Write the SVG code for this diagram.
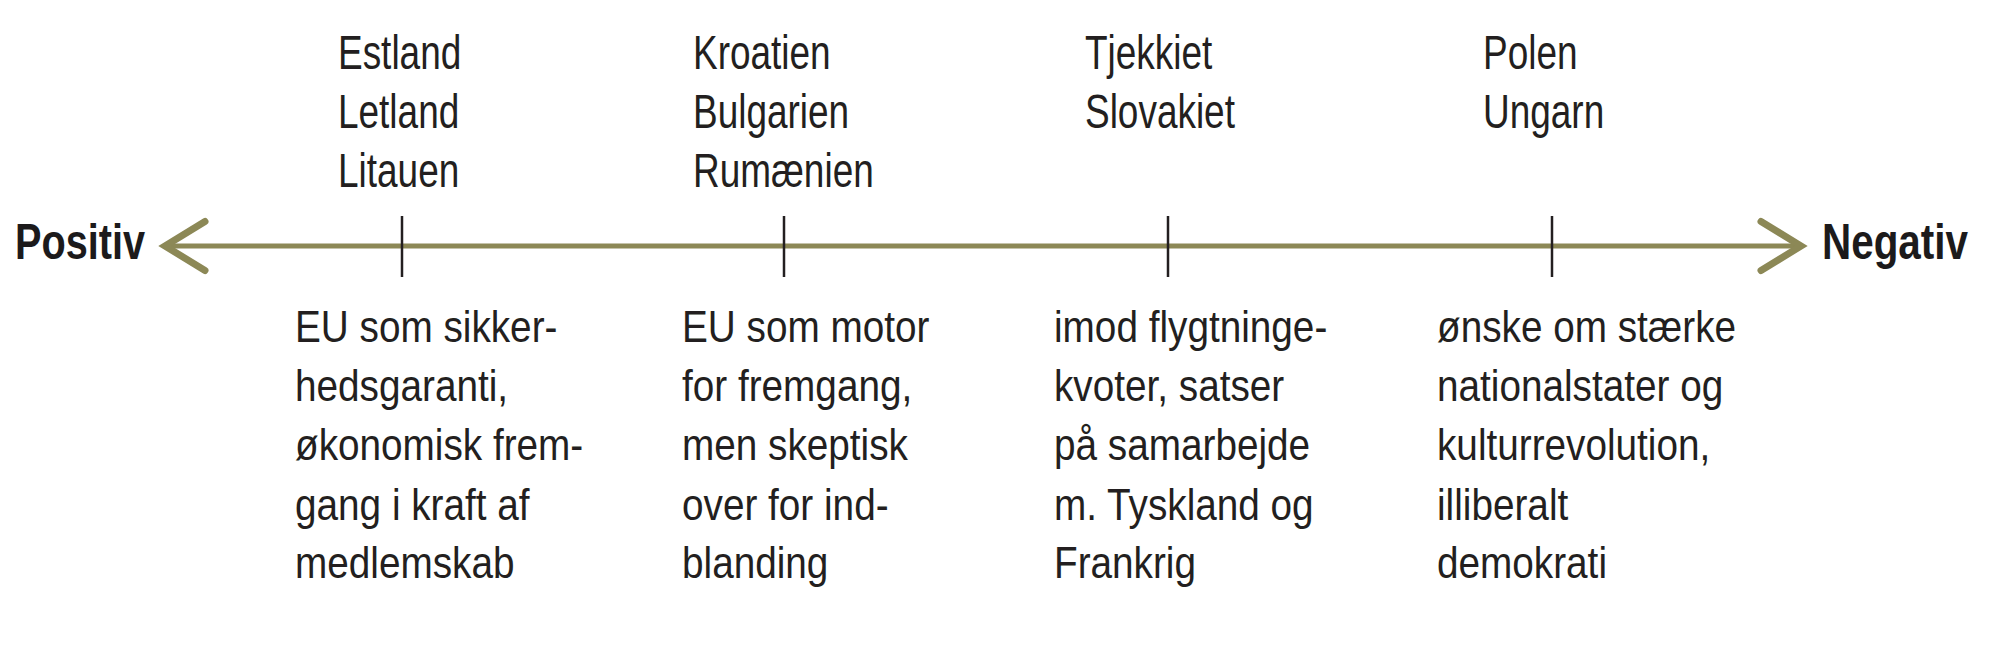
<svg xmlns="http://www.w3.org/2000/svg" width="2000" height="652" viewBox="0 0 2000 652">
<style>
  .top { font-family: "Liberation Sans", Arial, sans-serif; font-size: 48px; fill: #231f20; }
  .bot { font-family: "Liberation Sans", Arial, sans-serif; font-size: 44px; fill: #231f20; }
  .end { font-family: "Liberation Sans", Arial, sans-serif; font-size: 50px; font-weight: bold; fill: #1c1a1b; }
  .tick { stroke: #231f20; stroke-width: 2.5; }
  .axis { stroke: #8c8856; stroke-width: 5; fill: none; }
  .chev { stroke: #8c8856; stroke-width: 7; fill: none; stroke-linecap: round; stroke-linejoin: miter; }
</style>
<defs>
  <marker id="chev" markerUnits="userSpaceOnUse" orient="auto-start-reverse" refX="0" refY="0" markerWidth="60" markerHeight="60" viewBox="-50 -30 60 60" overflow="visible">
    <path class="chev" d="M-40,-24.5 L0,0 L-40,24.5"/>
  </marker>
</defs>
<rect width="2000" height="652" fill="#ffffff"/>

<g id="connectors">
  <line class="axis" x1="165" y1="246" x2="1801" y2="246" marker-start="url(#chev)" marker-end="url(#chev)"/>
</g>

<g id="label-positiv">
  <text class="end" x="15" y="259" textLength="130" lengthAdjust="spacingAndGlyphs">Positiv</text>
</g>
<g id="label-negativ">
  <text class="end" x="1822" y="259" textLength="146" lengthAdjust="spacingAndGlyphs">Negativ</text>
</g>

<g id="node-baltic">
  <line class="tick" x1="402" y1="216" x2="402" y2="277"/>
  <text class="top" transform="matrix(0.77 0 0 1 338 0)">
    <tspan x="0" y="69">Estland</tspan>
    <tspan x="0" y="128">Letland</tspan>
    <tspan x="0" y="187">Litauen</tspan>
  </text>
  <text class="bot" transform="matrix(0.88 0 0 1 295 0)">
    <tspan x="0" y="342">EU som sikker-</tspan>
    <tspan x="0" y="401">hedsgaranti,</tspan>
    <tspan x="0" y="460">økonomisk frem-</tspan>
    <tspan x="0" y="520">gang i kraft af</tspan>
    <tspan x="0" y="578">medlemskab</tspan>
  </text>
</g>

<g id="node-balkan">
  <line class="tick" x1="784" y1="216" x2="784" y2="277"/>
  <text class="top" transform="matrix(0.77 0 0 1 693 0)">
    <tspan x="0" y="69">Kroatien</tspan>
    <tspan x="0" y="128">Bulgarien</tspan>
    <tspan x="0" y="187">Rumænien</tspan>
  </text>
  <text class="bot" transform="matrix(0.88 0 0 1 682 0)">
    <tspan x="0" y="342">EU som motor</tspan>
    <tspan x="0" y="401">for fremgang,</tspan>
    <tspan x="0" y="460">men skeptisk</tspan>
    <tspan x="0" y="520">over for ind-</tspan>
    <tspan x="0" y="578">blanding</tspan>
  </text>
</g>

<g id="node-cz-sk">
  <line class="tick" x1="1168" y1="216" x2="1168" y2="277"/>
  <text class="top" transform="matrix(0.77 0 0 1 1085 0)">
    <tspan x="0" y="69">Tjekkiet</tspan>
    <tspan x="0" y="128">Slovakiet</tspan>
  </text>
  <text class="bot" transform="matrix(0.88 0 0 1 1054 0)">
    <tspan x="0" y="342">imod flygtninge-</tspan>
    <tspan x="0" y="401">kvoter, satser</tspan>
    <tspan x="0" y="460">på samarbejde</tspan>
    <tspan x="0" y="520">m. Tyskland og</tspan>
    <tspan x="0" y="578">Frankrig</tspan>
  </text>
</g>

<g id="node-pl-hu">
  <line class="tick" x1="1552" y1="216" x2="1552" y2="277"/>
  <text class="top" transform="matrix(0.77 0 0 1 1483 0)">
    <tspan x="0" y="69">Polen</tspan>
    <tspan x="0" y="128">Ungarn</tspan>
  </text>
  <text class="bot" transform="matrix(0.88 0 0 1 1437 0)">
    <tspan x="0" y="342">ønske om stærke</tspan>
    <tspan x="0" y="401">nationalstater og</tspan>
    <tspan x="0" y="460">kulturrevolution,</tspan>
    <tspan x="0" y="520">illiberalt</tspan>
    <tspan x="0" y="578">demokrati</tspan>
  </text>
</g>
</svg>
